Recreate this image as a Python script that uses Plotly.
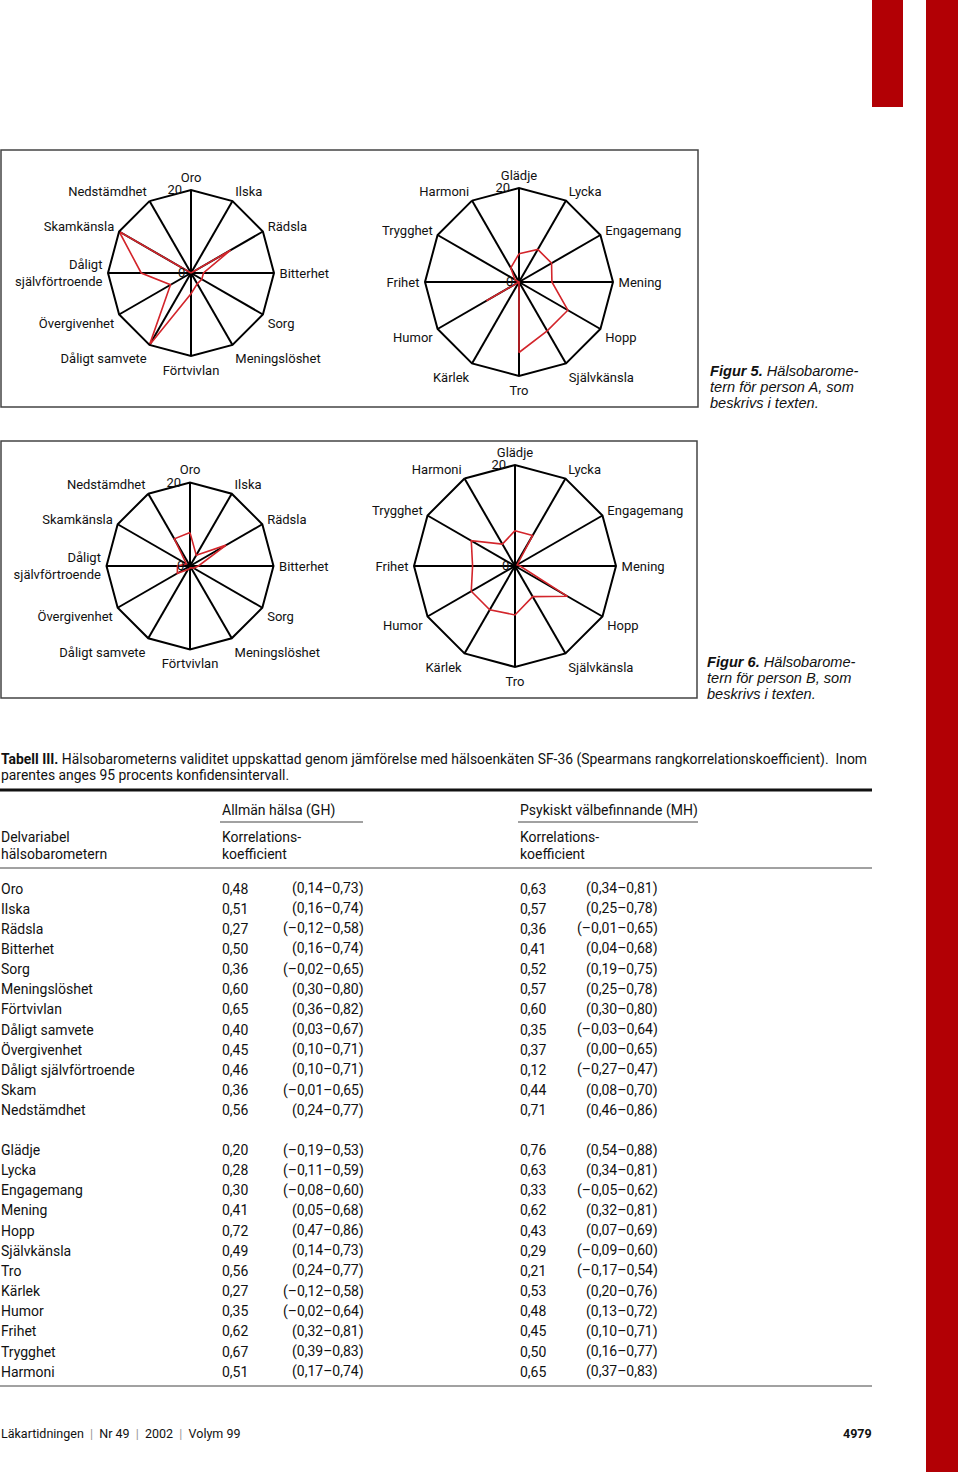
import plotly.graph_objects as go

W, H = 960, 1477

# ---------------- radar data ----------------
neg_cats = ["Oro", "Ilska", "Rädsla", "Bitterhet", "Sorg", "Meningslöshet", "Förtvivlan",
            "Dåligt samvete", "Övergivenhet", "Dåligt<br>självförtroende", "Skamkänsla", "Nedstämdhet"]
pos_cats = ["Glädje", "Lycka", "Engagemang", "Mening", "Hopp", "Självkänsla", "Tro",
            "Kärlek", "Humor", "Frihet", "Trygghet", "Harmoni"]

personA_neg = [0, 0, 11, 3, 3, 3, 5, 20, 5.7, 12, 20, 0]
personA_pos = [6, 8, 8, 7, 12, 12, 15, 0, 8, 0, 1, 3.5]
personB_neg = [8, 3, 10, 2, 1, 0.5, 0.5, 1, 3.5, 3, 1, 7.5]
personB_pos = [7, 7, 0.5, 1, 12, 7, 9.7, 10, 10, 8.4, 10, 5]

radial_ticks = [0, 20]

# ---------------- table data ----------------
rows_neg = ["Oro", "Ilska", "Rädsla", "Bitterhet", "Sorg", "Meningslöshet", "Förtvivlan",
            "Dåligt samvete", "Övergivenhet", "Dåligt självförtroende", "Skam", "Nedstämdhet"]
gh_neg = ["0,48", "0,51", "0,27", "0,50", "0,36", "0,60", "0,65", "0,40", "0,45", "0,46", "0,36", "0,56"]
gh_neg_ci = ["(0,14–0,73)", "(0,16–0,74)", "(–0,12–0,58)", "(0,16–0,74)", "(–0,02–0,65)", "(0,30–0,80)",
             "(0,36–0,82)", "(0,03–0,67)", "(0,10–0,71)", "(0,10–0,71)", "(–0,01–0,65)", "(0,24–0,77)"]
mh_neg = ["0,63", "0,57", "0,36", "0,41", "0,52", "0,57", "0,60", "0,35", "0,37", "0,12", "0,44", "0,71"]
mh_neg_ci = ["(0,34–0,81)", "(0,25–0,78)", "(–0,01–0,65)", "(0,04–0,68)", "(0,19–0,75)", "(0,25–0,78)",
             "(0,30–0,80)", "(–0,03–0,64)", "(0,00–0,65)", "(–0,27–0,47)", "(0,08–0,70)", "(0,46–0,86)"]

rows_pos = ["Glädje", "Lycka", "Engagemang", "Mening", "Hopp", "Självkänsla", "Tro",
            "Kärlek", "Humor", "Frihet", "Trygghet", "Harmoni"]
gh_pos = ["0,20", "0,28", "0,30", "0,41", "0,72", "0,49", "0,56", "0,27", "0,35", "0,62", "0,67", "0,51"]
gh_pos_ci = ["(–0,19–0,53)", "(–0,11–0,59)", "(–0,08–0,60)", "(0,05–0,68)", "(0,47–0,86)", "(0,14–0,73)",
             "(0,24–0,77)", "(–0,12–0,58)", "(–0,02–0,64)", "(0,32–0,81)", "(0,39–0,83)", "(0,17–0,74)"]
mh_pos = ["0,76", "0,63", "0,33", "0,62", "0,43", "0,29", "0,21", "0,53", "0,48", "0,45", "0,50", "0,65"]
mh_pos_ci = ["(0,54–0,88)", "(0,34–0,81)", "(–0,05–0,62)", "(0,32–0,81)", "(0,07–0,69)", "(–0,09–0,60)",
             "(–0,17–0,54)", "(0,20–0,76)", "(0,13–0,72)", "(0,10–0,71)", "(0,16–0,77)", "(0,37–0,83)"]

NARROW = "Roboto, Liberation Sans Narrow, sans-serif"
SANS = "Liberation Sans, Arial, Helvetica, sans-serif"
RED = "#d3252b"
NB = "\u00a0"


def X(px):
    return px / W


def Y(py):
    return 1 - py / H


fig = go.Figure()
layout_polars = {}

charts = [
    (neg_cats, personA_neg, 191, 273, 83),
    (pos_cats, personA_pos, 519, 282, 94),
    (neg_cats, personB_neg, 190, 566, 83.5),
    (pos_cats, personB_pos, 515, 566, 101),
]

for i, (cats, vals, cx, cy, r) in enumerate(charts, start=1):
    key = "polar" if i == 1 else f"polar{i}"
    fig.add_trace(go.Scatterpolar(
        r=vals + [vals[0]], theta=cats + [cats[0]], mode="lines",
        line=dict(color=RED, width=1.6), subplot=key, showlegend=False,
        hoverinfo="skip"))
    layout_polars[key] = dict(
        domain=dict(x=[X(cx - r), X(cx + r)], y=[Y(cy + r), Y(cy - r)]),
        gridshape="linear",
        bgcolor="white",
        angularaxis=dict(type="category", categoryarray=cats, direction="clockwise",
                         rotation=90, showline=True, linecolor="black", linewidth=2,
                         showgrid=True, gridcolor="black", gridwidth=1.6,
                         ticks="outside", ticklen=2, tickcolor="rgba(0,0,0,0)",
                         tickfont=dict(family=NARROW, size=13, color="#111")),
        radialaxis=dict(range=[0, 20], showgrid=False, showline=False, angle=90,
                        side="counterclockwise", tickmode="array", tickvals=radial_ticks,
                        ticktext=[str(t) + NB * (1 if t == 0 else 2) for t in radial_ticks],
                        ticks="", tickangle=90,
                        tickfont=dict(family=NARROW, size=13, color="#111")),
    )

shapes = []
annotations = []


def ann(text, x, y, size=14, xanchor="left", family=NARROW, color="#111"):
    annotations.append(dict(text=text, x=X(x), y=Y(y), xref="paper", yref="paper",
                            xanchor=xanchor, yanchor="middle", showarrow=False, align="left",
                            borderpad=0, borderwidth=0,
                            font=dict(family=family, size=size, color=color)))


def hline(x0, x1, y, width=1, color="#222"):
    shapes.append(dict(type="line", xref="paper", yref="paper", x0=X(x0), x1=X(x1),
                       y0=Y(y), y1=Y(y), line=dict(color=color, width=width)))


def rect(x0, y0, x1, y1, fill=None, line_color=None, width=0):
    shapes.append(dict(type="rect", xref="paper", yref="paper", x0=X(x0), x1=X(x1),
                       y0=Y(y1), y1=Y(y0), fillcolor=fill or "rgba(0,0,0,0)",
                       line=dict(color=line_color or "rgba(0,0,0,0)", width=width), layer="below"))


# red page bars
rect(872, 0, 903, 107, fill="#b20005")
rect(926, 0, 958, 1472, fill="#b20005")

# figure boxes
rect(1, 150, 698, 407, line_color="#444", width=1.5)
rect(1, 441, 697, 698, line_color="#444", width=1.5)

# figure captions
for (x0, y0, lbl, who) in [(710, 371, "Figur 5.", "A"), (707, 662, "Figur 6.", "B")]:
    ann(f"<b><i>{lbl}</i></b><i> Hälsobarome-</i>", x0, y0, size=14.6, family=SANS)
    ann(f"<i>tern för person {who}, som</i>", x0, y0 + 16, size=14.6, family=SANS)
    ann("<i>beskrivs i texten.</i>", x0, y0 + 32, size=14.6, family=SANS)

# table caption
ann("<b>Tabell III.</b> Hälsobarometerns validitet uppskattad genom jämförelse med hälsoenkäten "
    "SF-36 (Spearmans rangkorrelationskoefficient).  Inom", 1, 759, size=13.9)
ann("parentes anges 95 procents konfidensintervall.", 1, 775, size=13.9)
hline(0, 872, 790, width=3, color="#111")

# headers
ann("Allmän hälsa (GH)", 222, 810)
hline(220, 363, 822, width=1.2, color="#444")
ann("Psykiskt välbefinnande (MH)", 520, 810)
hline(518, 698, 822, width=1.2, color="#444")
ann("Delvariabel", 1, 837)
ann("hälsobarometern", 1, 854)
for xx in (222, 520):
    ann("Korrelations-", xx, 837)
    ann("koefficient", xx, 854)
hline(0, 872, 868, width=1, color="#444")

step = 20.15
blocks = [
    (rows_neg, gh_neg, gh_neg_ci, mh_neg, mh_neg_ci, 888.5),
    (rows_pos, gh_pos, gh_pos_ci, mh_pos, mh_pos_ci, 1150),
]
for names, gh, ghci, mh, mhci, y0 in blocks:
    for k in range(len(names)):
        yy = y0 + k * step
        ann(names[k], 1, yy)
        ann(gh[k], 222, yy)
        ann(ghci[k], 364, yy, xanchor="right")
        ann(mh[k], 520, yy)
        ann(mhci[k], 658, yy, xanchor="right")
hline(0, 872, 1386, width=1, color="#444")

# footer
sep = NB * 2 + '<span style="color:#999">|</span>' + NB * 2
ann(f"Läkartidningen{sep}Nr 49{sep}2002{sep}Volym 99", 1, 1433, size=12.5)
ann("<b>4979</b>", 872, 1433, size=12.5, xanchor="right")

fig.update_layout(
    width=W, height=H, margin=dict(l=0, r=0, t=0, b=0),
    paper_bgcolor="white", plot_bgcolor="white", showlegend=False,
    shapes=shapes, annotations=annotations, **layout_polars)

fig.write_html("out.html")
